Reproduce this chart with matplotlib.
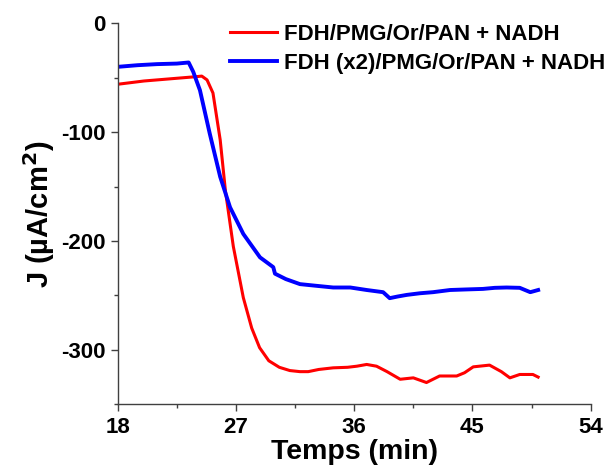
import matplotlib
matplotlib.use('Agg')
import matplotlib.pyplot as plt
from matplotlib.ticker import MultipleLocator

plt.rcParams['font.family'] = ['Liberation Sans', 'DejaVu Sans']
plt.rcParams['font.weight'] = 'bold'
plt.rcParams['axes.unicode_minus'] = False

# Red curve: FDH/PMG/Or/PAN + NADH
red_t = [18.0, 20.0, 22.0, 24.0, 24.4, 24.8, 25.25, 25.8, 26.2, 26.8, 27.56,
         28.2, 28.8, 29.5, 30.3, 31.1, 31.87, 32.5, 33.3, 34.4, 35.5, 36.2,
         36.95, 37.7, 38.5, 39.5, 40.5, 41.5, 42.5, 43.8, 44.4, 45.06, 46.3,
         47.2, 47.85, 48.6, 49.6, 50.0]
red_j = [-56, -53, -51, -49, -48.5, -52, -64, -107, -154, -205, -252,
         -280, -298, -310, -316, -319, -320, -320, -318, -316.5, -316, -315,
         -313.4, -315, -320, -327, -325.7, -330, -324, -324, -321, -315.6, -314,
         -320, -325.7, -322.6, -322.6, -325]

# Blue curve: FDH (x2)/PMG/Or/PAN + NADH
blue_t = [18.0, 19.5, 21.0, 22.5, 23.4, 23.75, 24.26, 25.0, 25.8, 26.55,
          27.56, 28.83, 29.84, 29.97, 30.8, 31.87, 33.0, 34.4, 35.7, 36.95,
          38.2, 38.7, 39.3, 40.0, 41.0, 42.0, 43.3, 44.5, 45.8, 46.7, 47.6,
          48.6, 49.4, 50.0]
blue_j = [-40, -38.5, -37.5, -37, -36, -44.6, -61.5, -101, -141, -169,
          -193.5, -215, -224, -230, -235, -239.6, -241, -242.7, -242.7, -245,
          -247, -252.5, -251, -249.5, -248, -247, -245, -244.5, -244, -243, -242.7,
          -243, -247, -245]

labels = ['FDH/PMG/Or/PAN + NADH', 'FDH (x2)/PMG/Or/PAN + NADH']

fig = plt.figure(figsize=(6.1, 4.69), dpi=100)
ax = fig.add_axes([117.7 / 610, 1 - 404.3 / 469, (590.7 - 117.7) / 610, (404.3 - 23.3) / 469])

ax.plot(red_t, red_j, color='#ff0000', lw=2.2, label=labels[0])
ax.plot(blue_t, blue_j, color='#0000ff', lw=2.8, label=labels[1])

ax.set_xlim(18, 54)
ax.set_ylim(-350, 0)
ax.xaxis.set_major_locator(MultipleLocator(9))
ax.xaxis.set_minor_locator(MultipleLocator(4.5))
ax.yaxis.set_major_locator(MultipleLocator(100))
ax.yaxis.set_minor_locator(MultipleLocator(50))

for s in ['top', 'right']:
    ax.spines[s].set_visible(False)
for s in ['left', 'bottom']:
    ax.spines[s].set_color('#404040')
    ax.spines[s].set_linewidth(1.0)

ax.tick_params(which='major', direction='out', length=5, width=1.0, color='#404040',
               labelsize=16, pad=4)
ax.tick_params(which='minor', direction='out', length=3, width=1.0, color='#404040')
for lab in ax.get_xticklabels() + ax.get_yticklabels():
    lab.set_fontweight('bold')

ax.set_xlabel('Temps (min)', fontsize=20.5, fontweight='bold', labelpad=1)
ax.set_ylabel('J (µA/cm$^\\mathbf{2}$)', fontsize=21, fontweight='bold', labelpad=3)

ax.legend(loc='upper left', bbox_to_anchor=(230 / 610, 1 - 24 / 469),
          bbox_transform=fig.transFigure, frameon=False,
          handlelength=2.1, handletextpad=0.35, labelspacing=0.35,
          borderpad=0, borderaxespad=0, prop={'weight': 'bold', 'size': 16})

plt.savefig('out.png', dpi=100)
